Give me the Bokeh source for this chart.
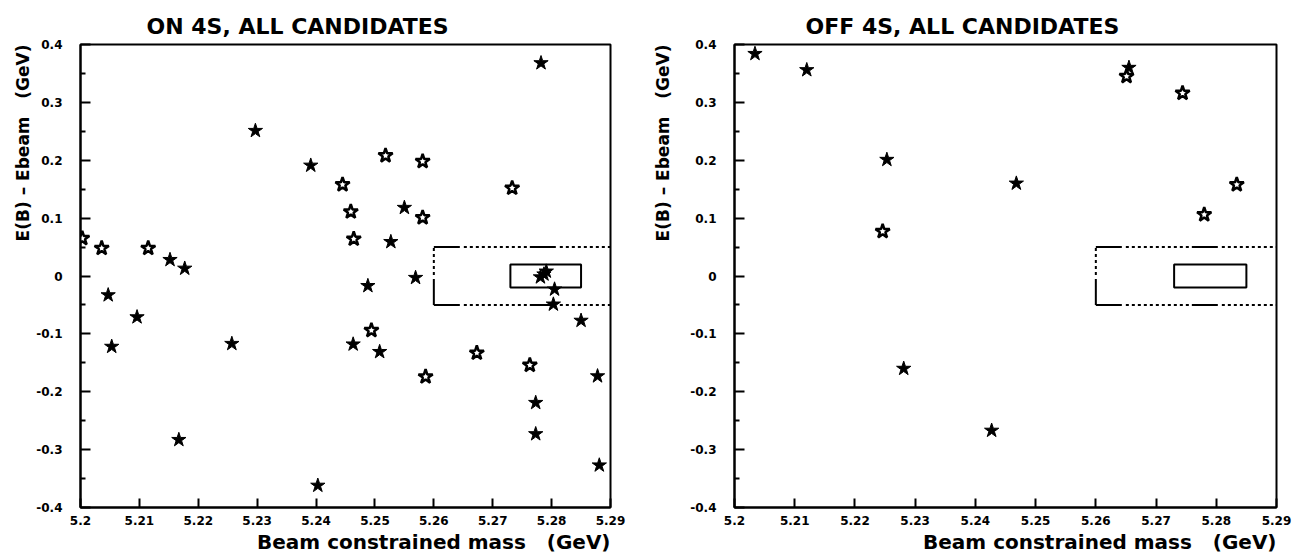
from bokeh.plotting import figure
from bokeh.layouts import row
from bokeh.models import FixedTicker, Title
from bokeh.embed import file_html
from bokeh.resources import INLINE

# ---------------- data ----------------
on_mbc = [5.2003, 5.2036, 5.2115, 5.2152, 5.2177, 5.2297, 5.2391, 5.2445, 5.2459, 5.2464,
          5.2518, 5.2527, 5.2550, 5.2581, 5.2581, 5.2733, 5.2782, 5.2047, 5.2053, 5.2096,
          5.2167, 5.2257, 5.2403, 5.2463, 5.2488, 5.2494, 5.2508, 5.2569, 5.2586, 5.2673,
          5.2763, 5.2773, 5.2773, 5.2791, 5.2787, 5.2781, 5.2805, 5.2803, 5.2850, 5.2878,
          5.2881]
on_de = [0.065, 0.048, 0.048, 0.028, 0.013, 0.251, 0.191, 0.158, 0.111, 0.064,
         0.208, 0.059, 0.118, 0.198, 0.101, 0.152, 0.368, -0.033, -0.122, -0.071,
         -0.283, -0.117, -0.362, -0.118, -0.017, -0.094, -0.131, -0.003, -0.174, -0.133,
         -0.154, -0.219, -0.273, 0.008, 0.003, -0.002, -0.023, -0.049, -0.077, -0.173,
         -0.327]
on_open = [1, 1, 1, 0, 0, 0, 0, 1, 1, 1,
           1, 0, 0, 1, 1, 1, 0, 0, 0, 0,
           0, 0, 0, 0, 0, 1, 0, 0, 1, 1,
           1, 0, 0, 0, 0, 0, 0, 0, 0, 0,
           0]

off_mbc = [5.2034, 5.2120, 5.2253, 5.2246, 5.2468, 5.2655, 5.2651, 5.2744, 5.2780, 5.2834,
           5.2281, 5.2427]
off_de = [0.384, 0.356, 0.201, 0.077, 0.160, 0.360, 0.345, 0.316, 0.106, 0.158,
          -0.160, -0.267]
off_open = [0, 0, 0, 1, 0, 0, 1, 1, 1, 1,
            0, 0]

# signal box and sideband box (GeV)
signal_mbc = [5.273, 5.285]
signal_de = [-0.02, 0.02]
wide_mbc = [5.26, 5.29]
wide_de = [-0.05, 0.05]

x_ticks = [5.20, 5.21, 5.22, 5.23, 5.24, 5.25, 5.26, 5.27, 5.28, 5.29]
x_labels = ["5.2", "5.21", "5.22", "5.23", "5.24", "5.25", "5.26", "5.27", "5.28", "5.29"]
y_ticks = [-0.4, -0.3, -0.2, -0.1, 0.0, 0.1, 0.2, 0.3, 0.4]
y_labels = ["-0.4", "-0.3", "-0.2", "-0.1", "0", "0.1", "0.2", "0.3", "0.4"]
y_minor = [-0.35, -0.25, -0.15, -0.05, 0.05, 0.15, 0.25, 0.35]

titles = ["ON 4S, ALL CANDIDATES", "OFF 4S, ALL CANDIDATES"]
x_title = "Beam constrained mass\u00a0\u00a0\u00a0(GeV)"
y_title = "E(B) \u2013 Ebeam\u00a0\u00a0\u00a0(GeV)"

FONT = "DejaVu Sans"
DASH = "26 4 3 3 3 3 3 3 3 3 3 3 3 3 3 3 3 3 3 3 3 3 3 3"


def panel(title, xs, ys, opens, width, bl, br, toff, ystand):
    p = figure(width=width, height=554, x_range=(5.2, 5.29), y_range=(-0.4, 0.4),
               output_backend="svg", toolbar_location=None,
               min_border_left=bl, min_border_right=br,
               min_border_top=44, min_border_bottom=47)
    p.title.text = title
    p.title.align = "left"
    p.title.offset = toff
    p.title.text_font = FONT
    p.title.text_font_size = "22px"
    p.title.text_font_style = "bold"
    p.title.text_color = "black"
    p.title.standoff = 12
    p.grid.visible = False
    p.outline_line_color = "black"
    p.outline_line_width = 2
    p.background_fill_color = "white"
    p.border_fill_color = "white"

    p.xaxis.ticker = FixedTicker(ticks=x_ticks, minor_ticks=[])
    p.xaxis.major_label_overrides = dict(zip(x_ticks, x_labels))
    p.yaxis.ticker = FixedTicker(ticks=y_ticks, minor_ticks=y_minor)
    p.yaxis.major_label_overrides = dict(zip(y_ticks, y_labels))
    for ax in (p.xaxis[0], p.yaxis[0]):
        ax.axis_line_width = 2
        ax.axis_line_color = "black"
        ax.major_tick_line_width = 2
        ax.minor_tick_line_width = 2
        ax.major_tick_line_color = "black"
        ax.minor_tick_line_color = "black"
        ax.major_tick_out = 0
        ax.minor_tick_out = 0
        ax.major_label_text_font = FONT
        ax.major_label_text_font_size = "12px"
        ax.major_label_text_font_style = "bold"
        ax.major_label_text_color = "black"
    p.xaxis.major_tick_in = 9
    p.xaxis.minor_tick_in = 0
    p.xaxis.major_label_standoff = 8
    p.yaxis.major_tick_in = 10
    p.yaxis.minor_tick_in = 5
    p.yaxis.major_label_standoff = 18

    xt = Title(text=x_title, align="right", text_font=FONT, text_font_size="20px",
               text_font_style="bold", text_color="black", standoff=0)
    p.add_layout(xt, "below")
    yt = Title(text=y_title, align="right", text_font=FONT, text_font_size="17px",
               text_font_style="bold", text_color="black", standoff=ystand)
    p.add_layout(yt, "left")

    # boxes
    p.line(wide_mbc, [wide_de[1]] * 2, line_color="black", line_width=2, line_dash=DASH)
    p.line(wide_mbc, [wide_de[0]] * 2, line_color="black", line_width=2, line_dash=DASH)
    p.line([wide_mbc[0]] * 2, wide_de, line_color="black", line_width=2, line_dash=DASH)
    p.quad(left=signal_mbc[0], right=signal_mbc[1], bottom=signal_de[0], top=signal_de[1],
           fill_alpha=0, line_color="black", line_width=2)

    fx = [x for x, o in zip(xs, opens) if not o]
    fy = [y for y, o in zip(ys, opens) if not o]
    ox = [x for x, o in zip(xs, opens) if o]
    oy = [y for y, o in zip(ys, opens) if o]
    p.scatter(fx, fy, marker="star", size=15, fill_color="black", line_color="black",
              line_width=1)
    p.scatter(ox, oy, marker="star", size=15, fill_color="white", line_color="black",
              line_width=2.5)
    return p


p1 = panel(titles[0], on_mbc, on_de, on_open, 632, 80, 22, 66, 2)
p2 = panel(titles[1], off_mbc, off_de, off_open, 665, 102, 21, 71, 30)
layout = row(p1, p2)
open("out.html", "w").write(file_html(layout, INLINE))
